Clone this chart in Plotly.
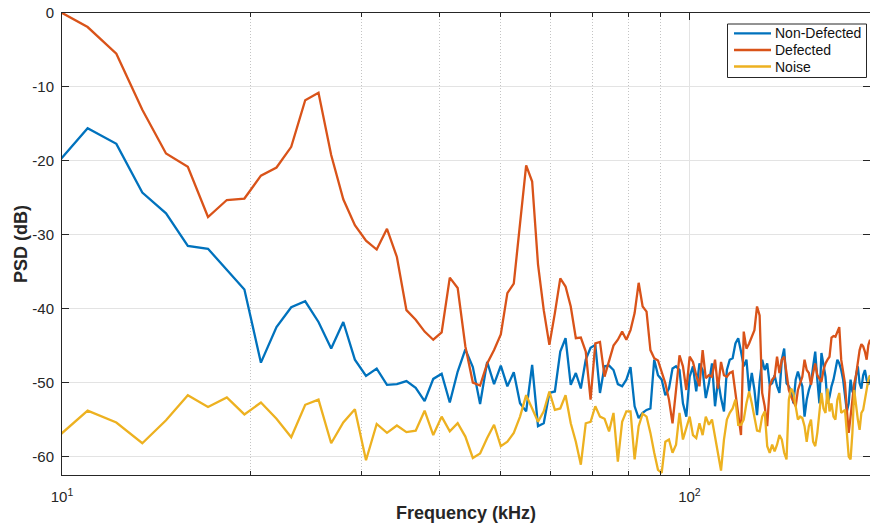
import plotly.graph_objects as go

# FFT bin spacing (kHz) and the bin numbers shown on the plot
bin_width_khz = 2500 / 2048
bins = list(range(8, 160))
freq_khz = [k * bin_width_khz for k in bins]

# PSD in dB, one value per bin (bins 8..159)
psd_defected = [
    0.5, -1.9, -5.5, -13.1, -19.0, -20.8, -27.6, -25.3, -25.1, -22.0,
    -20.9, -18.1, -11.8, -10.8, -19.2, -25.2, -28.7, -30.8, -32.0, -29.2,
    -33.0, -40.2, -41.5, -43.1, -44.2, -43.2, -35.8, -37.2, -45.1, -50.0,
    -50.4, -47.4, -45.6, -43.5, -37.9, -36.6, -28.5, -20.6, -22.8, -34.0,
    -40.2, -44.9, -40.6, -35.9, -37.0, -39.7, -44.0, -43.9, -45.8, -52.3,
    -44.7, -44.5, -49.2, -47.2, -45.0, -44.2, -43.1, -44.2, -42.9, -40.6,
    -36.5, -39.7, -40.4, -45.6, -46.7, -47.0, -48.7, -50.1, -52.3, -55.5,
    -51.0, -46.3, -47.8, -51.0, -46.5, -47.2, -49.0, -50.5, -45.6, -49.4,
    -49.0, -49.2, -46.9, -50.8, -47.2, -49.0, -49.2, -48.7, -48.5, -51.2,
    -54.1, -57.1, -43.1, -45.4, -44.7, -43.8, -42.9, -39.7, -40.9, -51.4,
    -53.2, -55.9, -50.5, -49.6, -49.2, -46.5, -48.7, -46.9, -46.5, -48.7,
    -51.0, -51.9, -52.6, -53.2, -51.0, -50.1, -49.2, -46.9, -48.3, -48.7,
    -50.3, -48.7, -47.4, -49.0, -49.4, -49.9, -48.3, -47.4, -46.9, -46.5,
    -43.9, -43.7, -43.8, -43.1, -42.5, -46.9, -48.3, -50.1, -53.7, -56.8,
    -54.6, -52.3, -50.1, -49.0, -46.9, -45.6, -44.8, -45.1, -45.8, -46.9,
    -44.9, -44.2,
]

psd_non_defected = [
    -20.6, -15.6, -17.7, -24.3, -27.1, -31.5, -31.9, -34.8, -37.4, -47.3,
    -42.5, -39.8, -39.0, -41.8, -45.4, -41.8, -46.9, -49.1, -48.1, -50.3,
    -50.2, -49.8, -50.7, -52.5, -49.5, -48.8, -52.7, -48.5, -45.5, -47.9,
    -52.9, -47.2, -50.2, -47.7, -50.5, -48.6, -52.8, -53.9, -47.6, -55.9,
    -55.5, -51.4, -51.2, -45.8, -44.0, -50.3, -48.7, -50.8, -46.9, -45.3,
    -44.9, -51.4, -47.8, -47.7, -48.3, -50.2, -50.5, -49.6, -47.9, -53.2,
    -54.8, -54.1, -53.7, -53.5, -46.9, -49.0, -49.6, -51.7, -50.8, -48.1,
    -47.8, -48.3, -52.8, -54.6, -49.2, -47.8, -51.2, -47.4, -48.3, -52.1,
    -50.1, -47.4, -53.2, -49.6, -52.1, -53.9, -48.3, -46.9, -46.7, -44.7,
    -44.0, -45.8, -47.8, -46.9, -51.2, -48.7, -51.0, -54.4, -49.9, -46.9,
    -48.3, -47.4, -50.3, -50.1, -49.0, -50.5, -51.4, -46.9, -45.4, -50.1,
    -50.5, -51.2, -52.8, -49.6, -48.5, -49.6, -50.5, -54.6, -52.3, -51.0,
    -50.1, -47.8, -45.8, -49.6, -52.8, -46.0, -47.8, -49.2, -52.8, -51.9,
    -50.5, -49.6, -48.3, -46.9, -47.4, -48.3, -49.6, -51.4, -53.9, -52.8,
    -49.6, -51.2, -51.7, -49.0, -47.8, -50.1, -50.8, -49.0, -48.3, -49.6,
    -50.3, -49.0,
]

psd_noise = [
    -57.6, -53.8, -55.4, -58.2, -55.1, -51.7, -53.3, -52.0, -54.3, -52.7,
    -54.9, -57.4, -53.0, -52.3, -58.2, -55.4, -53.6, -60.5, -55.6, -56.8,
    -55.8, -56.7, -56.5, -53.8, -57.1, -54.6, -56.6, -55.5, -57.3, -60.2,
    -59.6, -57.5, -55.7, -58.6, -58.0, -56.8, -54.6, -51.7, -53.5, -55.3,
    -53.9, -51.2, -53.7, -53.5, -51.7, -55.5, -58.0, -61.1, -55.5, -55.3,
    -53.2, -54.6, -54.9, -56.6, -54.1, -60.7, -55.3, -53.9, -53.9, -60.4,
    -55.9, -54.2, -54.6, -56.8, -59.5, -61.8, -62.2, -58.0, -57.7, -59.5,
    -58.4, -54.1, -57.7, -56.2, -54.6, -57.1, -57.5, -55.5, -57.1, -54.6,
    -55.7, -55.0, -57.5, -60.0, -61.9, -57.7, -55.0, -54.1, -53.5, -52.3,
    -55.7, -55.7, -55.0, -52.8, -51.2, -52.8, -54.6, -56.5, -56.6, -54.6,
    -53.9, -58.6, -59.5, -58.4, -59.3, -58.4, -57.1, -57.7, -59.5, -60.4,
    -52.3, -50.8, -51.4, -53.2, -55.0, -54.6, -54.8, -55.9, -58.0, -55.9,
    -55.0, -58.0, -58.6, -56.8, -54.1, -51.4, -53.5, -54.1, -50.8, -53.9,
    -52.8, -54.6, -55.0, -52.3, -51.4, -54.1, -53.9, -53.7, -56.8, -60.0,
    -60.4, -56.8, -51.0, -53.2, -55.0, -56.4, -54.1, -53.7, -52.3, -50.8,
    -49.6, -49.0,
]

series_names = ["Non-Defected", "Defected", "Noise"]
series_colors = ["#0072BD", "#D95319", "#EDB120"]

x_major_ticks = [10, 100]
x_major_text = ["10<sup>1</sup>", "10<sup>2</sup>"]
x_minor_ticks = [20, 30, 40, 50, 60, 70, 80, 90]
y_ticks = [-60, -50, -40, -30, -20, -10, 0]
y_tick_text = ["-60", "-50", "-40", "-30", "-20", "-10", "0"]

FONT = "Liberation Sans, Arial, Helvetica, sans-serif"
AXIS_COLOR = "#262626"

# plot-area geometry in pixels, used to place the compact legend box
W, H = 870, 525
M_L, M_R, M_T, M_B = 62, 0, 13, 50
PW, PH = W - M_L - M_R, H - M_T - M_B


def px_to_paper_x(px):
    return (px - M_L) / PW


def px_to_paper_y(py):
    return 1 - (py - M_T) / PH


fig = go.Figure()
for name, values, color in zip(series_names,
                               [psd_non_defected, psd_defected, psd_noise],
                               series_colors):
    fig.add_trace(go.Scatter(
        x=freq_khz, y=values, mode="lines", name=name,
        line=dict(color=color, width=2.3),
    ))

# compact legend: framed box, line samples and labels
legend_left, legend_right = 727.5, 866.5
legend_top, legend_bottom = 24, 77.5
row_y = [33.3, 50.0, 66.5]
shapes = [dict(
    type="rect", xref="paper", yref="paper",
    x0=px_to_paper_x(legend_left), x1=px_to_paper_x(legend_right),
    y0=px_to_paper_y(legend_bottom), y1=px_to_paper_y(legend_top),
    line=dict(color=AXIS_COLOR, width=1), fillcolor="white", layer="above",
)]
annotations = []
for name, color, ry in zip(series_names, series_colors, row_y):
    shapes.append(dict(
        type="line", xref="paper", yref="paper",
        x0=px_to_paper_x(734), x1=px_to_paper_x(771),
        y0=px_to_paper_y(ry), y1=px_to_paper_y(ry),
        line=dict(color=color, width=2.3), layer="above",
    ))
    annotations.append(dict(
        text=name, xref="paper", yref="paper",
        x=px_to_paper_x(773), y=px_to_paper_y(ry),
        xanchor="left", yanchor="middle", showarrow=False,
        font=dict(family=FONT, size=14, color="#111111"),
    ))

fig.update_layout(
    width=W, height=H,
    margin=dict(l=M_L, r=M_R, t=M_T, b=M_B),
    paper_bgcolor="white", plot_bgcolor="white",
    font=dict(family=FONT, size=15, color=AXIS_COLOR),
    showlegend=False,
    shapes=shapes,
    annotations=annotations,
)

fig.update_xaxes(
    type="log",
    range=[1, 1 + PW / 627.4],
    tickmode="array", tickvals=x_major_ticks, ticktext=x_major_text,
    ticks="inside", ticklen=7, tickcolor=AXIS_COLOR, tickwidth=1,
    ticklabelstandoff=8,
    showline=True, linecolor=AXIS_COLOR, linewidth=1, mirror="ticks",
    showgrid=True, gridcolor="#e3e3e3", gridwidth=1,
    zeroline=False,
    minor=dict(
        tickvals=x_minor_ticks, ticks="inside", ticklen=4,
        tickcolor=AXIS_COLOR, showgrid=True,
        gridcolor="#c4c4c4", griddash="1px,2px", gridwidth=1,
    ),
    title=dict(text="<b>Frequency (kHz)</b>",
               font=dict(family=FONT, size=18, color=AXIS_COLOR), standoff=2),
)

fig.update_yaxes(
    range=[-62.5, 0],
    tickmode="array", tickvals=y_ticks, ticktext=y_tick_text,
    ticks="inside", ticklen=7, tickcolor=AXIS_COLOR, tickwidth=1,
    ticklabelstandoff=4,
    showline=True, linecolor=AXIS_COLOR, linewidth=1, mirror="ticks",
    showgrid=True, gridcolor="#e3e3e3", gridwidth=1,
    zeroline=False,
    title=dict(text="<b>PSD (dB)</b>",
               font=dict(family=FONT, size=18, color=AXIS_COLOR), standoff=0),
)

fig.write_html("out.html")
